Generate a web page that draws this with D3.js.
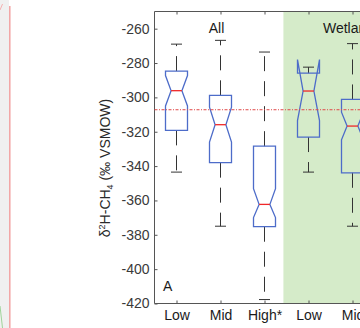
<!DOCTYPE html>
<html>
<head>
<meta charset="utf-8">
<script src="https://cdn.jsdelivr.net/npm/d3@7"></script>
<style>
  body { margin: 0; background: #fff; }
  svg { display: block; font-family: "Liberation Sans", Arial, sans-serif; }
</style>
</head>
<body>
<svg id="chart" width="360" height="328"></svg>
<script>
// category labels and group labels
const labels = ["Low", "Mid", "High*", "Low", "Mid"];
const groups = ["All", "Wetland"];
const groupCenters = [1, 4];

// box statistics (‰)
const whiskHi = [-269, -266.8, -273.6, -282.4, -268.7];
const q3 = [-284.7, -298.8, -328.4, -285.9, -301.2];
const notchHi = [-287.3, -305.7, -353.2, -278, -308.6];
const median = [-296.1, -315.9, -362.3, -296.3, -316.7];
const notchLo = [-305, -326, -370, -313.5, -324.7];
const q1 = [-319.2, -338, -375.3, -323.1, -343.9];
const whiskLo = [-343.5, -375, -417.7, -343.5, -375];
const meanLine = -307.2;
const yTicks = [-420, -400, -380, -360, -340, -320, -300, -280, -260];

const svg = d3.select("#chart");
const axLeft = 154.5, axTop = 11.5, axBottom = 303.5;

const x = d3.scaleLinear().domain([-0.5, 5.5]).range([axLeft, axLeft + 264]);
const y = d3.scaleLinear().domain([-420, -250]).range([axBottom, axTop]);

// bit of the neighbouring panel on the left
svg.append("rect").attr("x", 0).attr("y", 0).attr("width", 9).attr("height", 328).attr("fill", "#f0f0f0");
svg.append("line").attr("x1", 9.8).attr("x2", 9.8).attr("y1", 6).attr("y2", 328)
  .attr("stroke", "#f2a3a3").attr("stroke-width", 1.5);
svg.append("line").attr("x1", 0).attr("y1", 10).attr("x2", 2.5).attr("y2", 4)
  .attr("stroke", "#f4b0b0").attr("stroke-width", 1);
svg.append("line").attr("x1", 0).attr("y1", 306).attr("x2", 2.5).attr("y2", 328)
  .attr("stroke", "#9fd49a").attr("stroke-width", 1);

// wetland shading
svg.append("rect")
  .attr("x", x(2.43)).attr("y", axTop)
  .attr("width", 360 - x(2.43)).attr("height", axBottom - axTop)
  .attr("fill", "#d5ebc9");

// axes
const yAxis = d3.axisLeft(y).tickValues(yTicks).tickSize(-3).tickPadding(5).tickFormat(d => String(d));
const gy = svg.append("g").attr("transform", `translate(${axLeft},0)`).call(yAxis);
gy.select(".domain").attr("d", `M0,${axBottom}V${axTop}`);
gy.selectAll("text").attr("font-size", 14).attr("fill", "#3a3a3a");

const xAxis = d3.axisBottom(x).tickValues(d3.range(labels.length)).tickSize(-3).tickPadding(7)
  .tickFormat(i => labels[i]);
const gx = svg.append("g").attr("transform", `translate(0,${axBottom})`).call(xAxis);
gx.select(".domain").attr("d", `M${axLeft},0H360`);
gx.selectAll("text").attr("font-size", 14).attr("fill", "#1a1a1a");

const xTop = d3.axisTop(x).tickValues(d3.range(labels.length)).tickSize(-3).tickFormat("");
const gt = svg.append("g").attr("transform", `translate(0,${axTop})`).call(xTop);
gt.select(".domain").attr("d", `M${axLeft},0H360`);

svg.selectAll(".domain, .tick line").attr("stroke", "#555");

// boxes
const hw = 11, nw = 5.4, cw = 5.5;
const idx = d3.range(labels.length);

const boxes = svg.append("g");
idx.forEach(i => {
  const cx = x(i);
  const pts = [
    [cx - hw, q1[i]], [cx - hw, notchLo[i]], [cx - nw, median[i]], [cx - hw, notchHi[i]],
    [cx - hw, q3[i]], [cx + hw, q3[i]], [cx + hw, notchHi[i]], [cx + nw, median[i]],
    [cx + hw, notchLo[i]], [cx + hw, q1[i]]
  ].map(p => [p[0], y(p[1])]);

  // whiskers
  boxes.append("line").attr("x1", cx).attr("x2", cx).attr("y1", y(q3[i])).attr("y2", y(whiskHi[i]))
    .attr("stroke", "#333").attr("stroke-width", 1).attr("stroke-dasharray", "15,10");
  boxes.append("line").attr("x1", cx).attr("x2", cx).attr("y1", y(q1[i])).attr("y2", y(whiskLo[i]))
    .attr("stroke", "#333").attr("stroke-width", 1).attr("stroke-dasharray", "15,10");
  [whiskHi[i], whiskLo[i]].forEach(v => {
    boxes.append("line").attr("x1", cx - cw).attr("x2", cx + cw).attr("y1", y(v)).attr("y2", y(v))
      .attr("stroke", "#333").attr("stroke-width", 1);
  });

  boxes.append("path").attr("d", d3.line()(pts) + "Z")
    .attr("fill", "none").attr("stroke", "#4d6cc9").attr("stroke-width", 1.3);

  boxes.append("line").attr("x1", cx - nw).attr("x2", cx + nw)
    .attr("y1", y(median[i])).attr("y2", y(median[i]))
    .attr("stroke", "#f02828").attr("stroke-width", 1.3);
});

// overall mean
svg.append("line")
  .attr("x1", axLeft).attr("x2", 360).attr("y1", y(meanLine)).attr("y2", y(meanLine))
  .attr("stroke", "#e04848").attr("stroke-width", 1).attr("stroke-dasharray", "3,1.5,1,1.5");

// group labels
svg.selectAll(".grp").data(groups).enter().append("text")
  .attr("x", (d, i) => x(groupCenters[i]) - 4)
  .attr("y", 33)
  .attr("text-anchor", "middle")
  .attr("font-size", 14).attr("fill", "#1a1a1a")
  .text(d => d);

svg.append("text").attr("x", 163).attr("y", 291).attr("font-size", 14).attr("fill", "#1a1a1a").text("A");

// y label
const yl = svg.append("text")
  .attr("transform", "translate(110,168) rotate(-90)")
  .attr("text-anchor", "middle")
  .attr("font-size", 14).attr("fill", "#2a2a2a");
yl.append("tspan").text("δ");
yl.append("tspan").attr("font-size", 9).attr("dy", -5).text("2");
yl.append("tspan").attr("dy", 5).text("H-CH");
yl.append("tspan").attr("font-size", 9).attr("dy", 3).text("4");
yl.append("tspan").attr("dy", -3).text(" (‰ VSMOW)");
</script>
</body>
</html>
